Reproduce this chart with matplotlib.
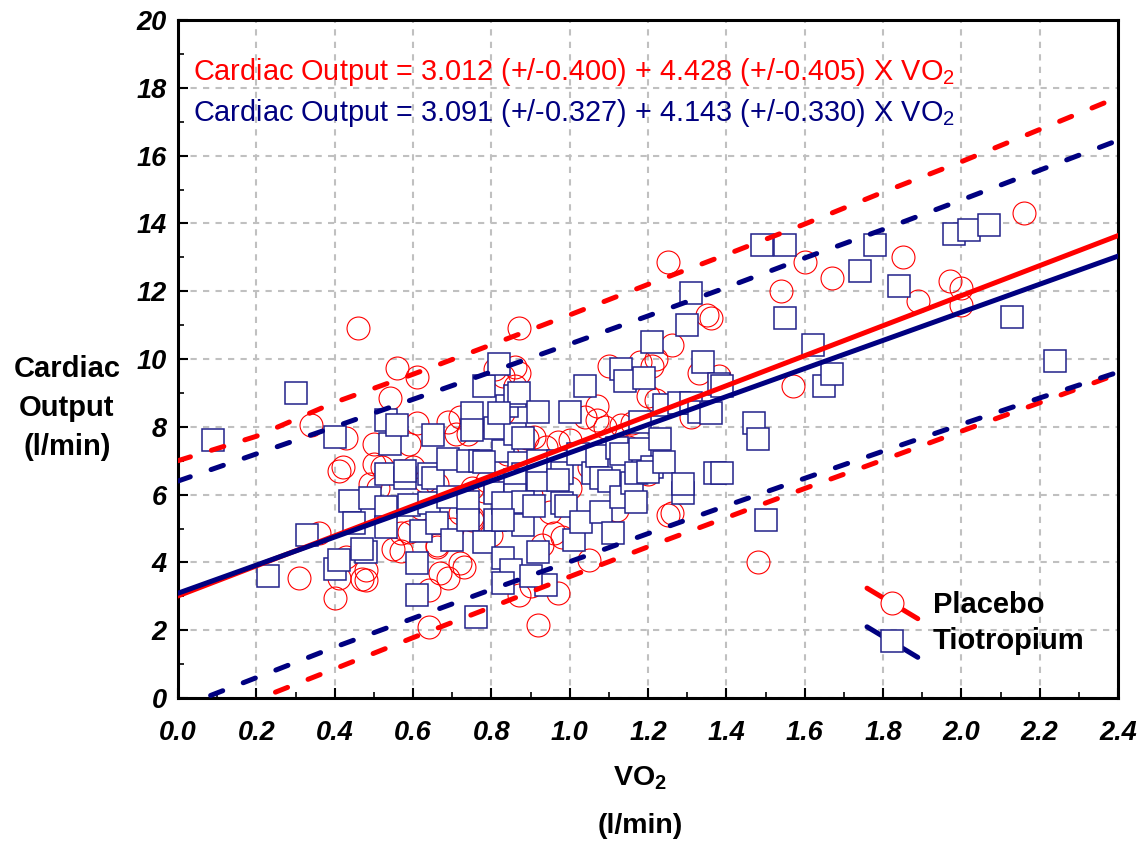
#!/usr/bin/env python3
"""
Cardiac output vs VO2 scatter with regression lines and prediction bands
(Placebo vs Tiotropium). Values read off the reference figure.
"""

import matplotlib
matplotlib.use("Agg")
import matplotlib.pyplot as plt
from matplotlib.ticker import MultipleLocator

# ---- regression equations shown in the chart ----
PLACEBO_INTERCEPT = 3.012
PLACEBO_SLOPE = 4.428
TIO_INTERCEPT = 3.091
TIO_SLOPE = 4.143

# ---- prediction bands (read at x = 0.0, 0.2, ... 2.4) ----
band_x = [0.0, 0.2, 0.4, 0.6, 0.8, 1.0, 1.2, 1.4, 1.6, 1.8, 2.0, 2.2, 2.4]
placebo_upper = [7.00, 7.72, 8.72, 9.55, 10.42, 11.30, 12.20, 13.08, 13.98, 14.92, 15.82, 16.77, 17.72]
placebo_lower = [-0.98, -0.05, 0.86, 1.78, 2.68, 3.58, 4.46, 5.32, 6.18, 7.02, 7.87, 8.71, 9.56]
tio_upper = [6.40, 7.20, 8.00, 8.81, 9.62, 10.44, 11.27, 12.11, 12.98, 13.82, 14.69, 15.57, 16.45]
tio_lower = [-0.30, 0.60, 1.50, 2.35, 3.20, 4.02, 4.85, 5.67, 6.48, 7.28, 8.07, 8.85, 9.61]

# ---- Placebo points (open circles) ----
placebo_x = [
    0.31, 0.40, 0.36, 0.46, 0.34, 0.42, 0.56, 0.61, 0.54, 0.43, 0.61, 0.41, 0.47, 0.43, 0.48, 0.48, 0.41,
    0.50, 0.59, 0.50, 0.52, 0.57, 0.60, 0.63, 0.49, 0.51, 0.66, 0.72, 0.57, 0.59, 0.57, 0.55, 0.66,
    0.72, 0.67, 0.69, 0.64, 0.64, 0.69, 0.72, 0.71, 0.75, 0.83, 0.74, 0.73, 0.75, 0.79, 0.75, 0.78,
    0.75, 0.66,
    0.87, 0.86, 0.87, 0.86, 0.81, 0.83, 0.89, 0.91, 0.84, 0.94, 0.97, 1.00, 1.04, 1.07, 1.07, 1.09,
    1.10, 1.18, 1.21, 1.22, 1.20, 1.22, 1.13, 1.16, 1.18, 1.20, 1.26, 1.25, 1.35, 1.36, 1.33, 1.38,
    1.31, 1.25, 1.26, 1.12, 0.98, 0.96, 1.05, 0.97, 0.90, 0.87, 0.92,
    0.90, 0.95, 1.00, 0.85, 1.05, 0.80, 0.93, 1.15, 0.62, 0.70,
    1.48, 1.57, 1.54, 1.60, 1.67, 1.85, 1.89, 1.97, 2.00, 2.00, 2.16,
]
placebo_y = [
    3.54, 2.95, 4.87, 10.90, 8.05, 6.81, 9.73, 9.47, 8.85, 7.67, 8.10, 3.55, 3.51, 4.15, 3.78, 3.48, 6.70,
    7.50, 7.50, 6.90, 6.80, 6.70, 6.80, 6.40, 6.30, 6.20, 6.30, 5.45, 4.87, 4.90, 4.35, 4.40, 4.45,
    3.98, 3.70, 3.55, 3.20, 2.10, 8.15, 8.30, 7.80, 8.00, 9.50, 7.80, 3.87, 5.25, 6.40, 6.20, 6.10,
    5.35, 4.50,
    10.90, 9.75, 9.60, 9.20, 9.70, 8.40, 7.67, 7.70, 7.20, 7.40, 7.55, 7.60, 8.30, 8.60, 8.20, 8.00,
    9.80, 9.90, 9.80, 10.00, 8.90, 8.80, 8.05, 8.10, 6.80, 6.60, 10.40, 12.86, 11.30, 11.20, 9.60, 9.50,
    8.30, 5.40, 5.45, 5.55, 4.75, 4.87, 4.07, 3.10, 3.30, 3.05, 2.15,
    6.00, 5.50, 6.20, 5.60, 6.80, 4.80, 4.50, 7.40, 5.60, 5.00,
    4.00, 9.20, 12.00, 12.85, 12.40, 13.00, 11.70, 12.30, 12.10, 11.60, 14.30,
]

# ---- Tiotropium points (open squares) ----
tio_x = [
    0.09, 0.30, 0.23, 0.33, 0.40, 0.40, 0.41, 0.44, 0.45, 0.48, 0.47, 0.49, 0.53, 0.54, 0.56, 0.53,
    0.53, 0.53, 0.58, 0.64, 0.58, 0.59, 0.61, 0.61, 0.62, 0.64, 0.65, 0.65, 0.66, 0.69, 0.69, 0.70,
    0.74, 0.74, 0.74, 0.75, 0.75, 0.76, 0.77, 0.78, 0.82, 0.84, 0.81, 0.83, 0.78, 0.81, 0.81, 0.78,
    0.83, 0.85, 0.83, 0.86, 0.86, 0.87, 0.82, 0.92, 0.88, 0.87, 0.88, 0.86, 0.92, 0.86, 0.83, 0.88,
    0.88, 0.83, 0.92, 0.94, 0.90, 0.92, 0.91, 0.97, 0.98, 0.97, 0.98, 0.99, 1.00, 1.01, 1.02, 1.03,
    1.04, 1.06, 1.07, 1.08, 1.08, 1.10, 1.11, 1.12, 1.13, 1.14, 1.13, 1.13, 1.16, 1.17, 1.17, 1.18,
    1.18, 1.19, 1.21, 1.21, 1.20, 1.23, 1.24, 1.24, 1.28, 1.29, 1.29, 1.30, 1.31, 1.31, 1.33, 1.34,
    1.36, 1.37, 1.38, 1.39, 1.39, 1.47, 1.48, 1.50, 1.55, 1.49, 1.55, 1.62, 1.65, 1.67, 1.74, 1.78,
    1.84, 1.98, 2.02, 2.07, 2.13, 2.24,
]
tio_y = [
    7.60, 9.00, 3.60, 4.80, 7.70, 3.80, 4.07, 5.80, 5.15, 4.30, 4.40, 5.90, 8.20, 7.50, 8.05, 6.60,
    5.63, 5.05, 6.50, 6.60, 6.70, 5.70, 3.04, 3.98, 4.92, 5.75, 7.75, 6.50, 5.16, 5.93, 7.05, 4.65,
    5.78, 7.00, 5.25, 8.40, 7.90, 2.40, 7.00, 9.20, 9.85, 8.60, 7.95, 7.30, 6.95, 6.05, 5.25, 4.60,
    4.13, 3.78, 3.40, 8.90, 7.80, 9.00, 8.40, 8.45, 7.67, 6.93, 6.60, 6.43, 6.43, 6.00, 5.75, 5.78,
    5.10, 5.25, 4.30, 3.33, 3.60, 7.00, 5.65, 7.00, 6.63, 6.43, 5.75, 5.65, 8.45, 4.65, 7.20, 5.20,
    9.20, 6.65, 7.15, 6.50, 5.49, 6.40, 4.87, 7.37, 9.70, 9.35, 7.20, 5.93, 6.35, 6.63, 5.78, 8.15,
    7.35, 9.45, 10.50, 6.80, 6.67, 7.65, 8.65, 6.96, 8.70, 6.05, 6.30, 10.99, 11.95, 8.70, 8.45, 9.90,
    8.40, 6.63, 9.25, 9.20, 6.65, 8.10, 7.65, 5.25, 11.20, 13.35, 13.35, 10.40, 9.20, 9.55, 12.60, 13.35,
    12.15, 13.70, 13.80, 13.95, 11.25, 9.95,
]

x_ticks = [0.0, 0.2, 0.4, 0.6, 0.8, 1.0, 1.2, 1.4, 1.6, 1.8, 2.0, 2.2, 2.4]
y_ticks = [0, 2, 4, 6, 8, 10, 12, 14, 16, 18, 20]

RED = '#ff0000'
NAVY = '#000080'
SQ_EDGE = '#22228a'


def main():
    plt.rcParams['font.family'] = ['Liberation Sans', 'DejaVu Sans']
    plt.rcParams['mathtext.default'] = 'regular'

    fig = plt.figure(figsize=(11.46, 8.43), dpi=100)
    ax = fig.add_axes([178 / 1146, 145 / 843, 940 / 1146, 678 / 843])

    # scatter points: circles first (open), squares on top (white filled)
    ax.plot(placebo_x, placebo_y, linestyle='none', marker='o', markersize=16.5,
            markerfacecolor='none', markeredgecolor=RED, markeredgewidth=0.8, zorder=3)
    ax.plot(tio_x, tio_y, linestyle='none', marker='s', markersize=15.5,
            markerfacecolor='white', markeredgecolor=SQ_EDGE, markeredgewidth=1.1, zorder=4)

    # regression lines
    line_x = [0.0, 2.4]
    ax.plot(line_x, [PLACEBO_INTERCEPT + PLACEBO_SLOPE * v for v in line_x],
            color=RED, linewidth=3.6, zorder=5)
    ax.plot(line_x, [TIO_INTERCEPT + TIO_SLOPE * v for v in line_x],
            color=NAVY, linewidth=3.6, zorder=6)

    # prediction bands
    dash = dict(linewidth=3.6, linestyle=(0, (2.6, 4.4)), dash_capstyle='round')
    ax.plot(band_x, placebo_upper, color=RED, zorder=5, **dash)
    ax.plot(band_x, placebo_lower, color=RED, zorder=5, **dash)
    ax.plot(band_x, tio_upper, color=NAVY, zorder=6, **dash)
    ax.plot(band_x, tio_lower, color=NAVY, zorder=6, **dash)

    # axes, ticks, grid
    ax.set_xlim(0, 2.4)
    ax.set_ylim(0, 20)
    ax.set_xticks(x_ticks)
    ax.set_yticks(y_ticks)
    ax.set_xticklabels([f'{v:.1f}' for v in x_ticks])
    ax.set_yticklabels([str(v) for v in y_ticks])
    ax.xaxis.set_minor_locator(MultipleLocator(0.1))
    ax.yaxis.set_minor_locator(MultipleLocator(1))
    ax.tick_params(axis='both', which='major', direction='in', length=7, width=1.5, labelsize=19.5)
    ax.tick_params(axis='both', which='minor', direction='in', length=4, width=1.2)
    ax.tick_params(axis='x', which='major', pad=16)
    ax.tick_params(axis='y', which='major', pad=8)
    for lab in ax.get_xticklabels() + ax.get_yticklabels():
        lab.set_fontweight('bold')
        lab.set_fontstyle('italic')
    for sp in ax.spines.values():
        sp.set_linewidth(2.2)
    ax.grid(True, which='major', color='#c0c0c0', linestyle=(0, (3, 3)), linewidth=1.5, zorder=0)
    ax.set_axisbelow(True)

    # equations
    ax.text(0.016, 0.923, 'Cardiac Output = 3.012 (+/-0.400) + 4.428 (+/-0.405) X VO$_2$',
            transform=ax.transAxes, color=RED, fontsize=20.8, va='center', ha='left')
    ax.text(0.016, 0.863, 'Cardiac Output = 3.091 (+/-0.327) + 4.143 (+/-0.330) X VO$_2$',
            transform=ax.transAxes, color=NAVY, fontsize=20.8, va='center', ha='left')

    # legend drawn by hand (slanted line through the marker)
    tr = ax.transAxes
    ax.plot([0.733, 0.787], [0.162, 0.117], transform=tr, color=RED, linewidth=3.6,
            solid_capstyle='round', clip_on=False, zorder=7)
    ax.plot([0.760], [0.140], transform=tr, marker='o', markersize=16.5, markerfacecolor='white',
            markeredgecolor=RED, markeredgewidth=0.8, clip_on=False, zorder=8)
    ax.plot([0.733, 0.787], [0.105, 0.060], transform=tr, color=NAVY, linewidth=3.6,
            solid_capstyle='round', clip_on=False, zorder=7)
    ax.plot([0.760], [0.084], transform=tr, marker='s', markersize=15.5, markerfacecolor='white',
            markeredgecolor=SQ_EDGE, markeredgewidth=1.1, clip_on=False, zorder=8)
    ax.text(0.803, 0.137, 'Placebo', transform=tr, fontsize=21, fontweight='bold',
            va='center', ha='left', zorder=9)
    ax.text(0.803, 0.084, 'Tiotropium', transform=tr, fontsize=21, fontweight='bold',
            va='center', ha='left', zorder=9)

    # axis titles
    fig.text(67 / 1146, 1 - 408 / 843, 'Cardiac\nOutput\n(l/min)', fontsize=21, fontweight='bold',
             ha='center', va='center', linespacing=1.5)
    fig.text(640 / 1146, 1 - 778 / 843, 'VO$_2$', fontsize=20.5, fontweight='bold',
             ha='center', va='center')
    fig.text(640 / 1146, 1 - 826 / 843, '(l/min)', fontsize=20.5, fontweight='bold',
             ha='center', va='center')

    fig.savefig('out.png', dpi=100, facecolor='white')
    plt.close(fig)


if __name__ == "__main__":
    main()
